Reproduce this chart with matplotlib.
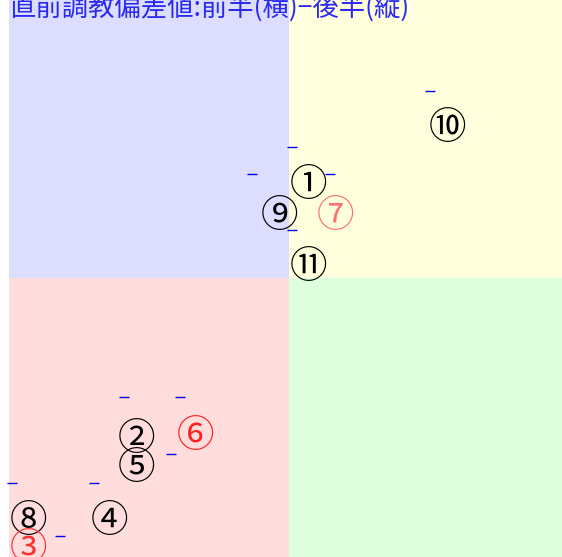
import matplotlib
matplotlib.use("Agg")
import matplotlib.pyplot as plt
from matplotlib.patches import Rectangle

# 直前調教偏差値: 前半(横) - 後半(縦)
TITLE = "直前調教偏差値:前半(横)−後半(縦)"
CENTER = 50.0

# 小さな目印(青いダッシュ)
mark_x = [50.21, 47.36, 52.93, 50.21, 60.07, 38.21, 42.21, 41.57, 30.21, 36.07, 33.64]
mark_y = [59.36, 57.43, 57.43, 53.43, 63.36, 41.50, 41.50, 37.43, 35.36, 35.36, 31.57]

# 馬番ラベル
horse_no = ["①", "⑨", "⑦", "⑪", "⑩", "②", "⑥", "⑤", "⑧", "④", "③"]
horse_x = [51.36, 49.29, 53.29, 51.36, 61.29, 39.14, 43.29, 39.14, 31.36, 37.21, 31.36]
horse_y = [56.61, 54.39, 54.39, 50.75, 60.68, 38.47, 38.68, 36.39, 32.61, 32.61, 30.61]
horse_color = ["black", "black", "#ff7070", "black", "black", "black",
               "#ff2020", "black", "black", "black", "#ff3030"]

QUAD_COLORS = {
    "tl": "#ddddff",
    "tr": "#ffffdd",
    "bl": "#ffdddd",
    "br": "#ddffdd",
}

fig = plt.figure(figsize=(5.62, 5.57), dpi=100)
ax = fig.add_axes([9 / 562, 0, 553 / 562, 1])
xlim = (30.0, 69.5)
ylim = (30.07, 69.86)
ax.set_xlim(*xlim)
ax.set_ylim(*ylim)
ax.axis("off")

# 4象限の背景
ax.add_patch(Rectangle((xlim[0], CENTER), CENTER - xlim[0], ylim[1] - CENTER,
                       color=QUAD_COLORS["tl"], lw=0, zorder=0))
ax.add_patch(Rectangle((CENTER, CENTER), xlim[1] - CENTER, ylim[1] - CENTER,
                       color=QUAD_COLORS["tr"], lw=0, zorder=0))
ax.add_patch(Rectangle((xlim[0], ylim[0]), CENTER - xlim[0], CENTER - ylim[0],
                       color=QUAD_COLORS["bl"], lw=0, zorder=0))
ax.add_patch(Rectangle((CENTER, ylim[0]), xlim[1] - CENTER, CENTER - ylim[0],
                       color=QUAD_COLORS["br"], lw=0, zorder=0))

ax.plot(mark_x, mark_y, linestyle="none", marker="_", markersize=7,
        markeredgewidth=1.0, color="#0000ff", clip_on=False, zorder=3)

for n, x, y, c in zip(horse_no, horse_x, horse_y, horse_color):
    ax.text(x, y, n, ha="center", va="center", fontsize=27, color=c,
            family=["Noto Sans CJK JP", "DejaVu Sans"], zorder=4)

fig.text(9 / 562, 1 - 16 / 557, TITLE, ha="left", va="baseline",
         fontsize=19, color="#2a2af0", family=["Noto Sans CJK JP", "DejaVu Sans"])

fig.savefig("out.png", dpi=100)
